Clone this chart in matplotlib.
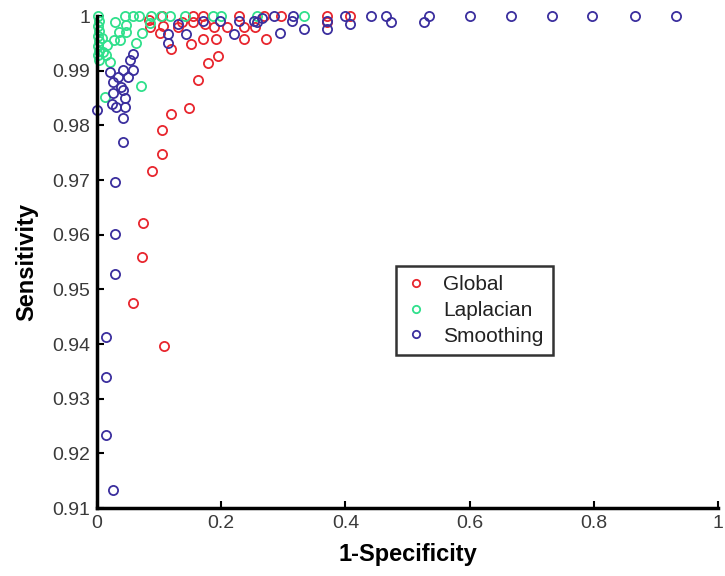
import matplotlib
matplotlib.use("Agg")
import matplotlib.pyplot as plt

plt.rcParams['font.family'] = ['Liberation Sans', 'DejaVu Sans']

# ROC operating points for three segmentation methods: (1-Specificity, Sensitivity)
global_x = [0.107, 0.058, 0.073, 0.074, 0.089, 0.105, 0.104, 0.119, 0.148, 0.162,
            0.178, 0.194, 0.119, 0.152, 0.170, 0.192, 0.237, 0.272, 0.101, 0.085,
            0.106, 0.130, 0.173, 0.189, 0.210, 0.237, 0.255, 0.154, 0.105, 0.155,
            0.170, 0.228, 0.269, 0.297, 0.370, 0.407, 0.370, 0.083, 0.136]
global_y = [0.9397, 0.9476, 0.9560, 0.9622, 0.9717, 0.9748, 0.9791, 0.9821, 0.9832, 0.9884,
            0.9915, 0.9927, 0.9939, 0.9949, 0.9959, 0.9959, 0.9959, 0.9959, 0.9970, 0.9980,
            0.9982, 0.9980, 0.9985, 0.9980, 0.9980, 0.9980, 0.9980, 0.9990, 1.0000, 1.0000,
            1.0000, 1.0000, 1.0000, 1.0000, 1.0000, 1.0000, 0.9990, 0.9993, 0.9990]

laplacian_x = [0.002, 0.003, 0.002, 0.003, 0.002, 0.003, 0.002, 0.003, 0.002, 0.003,
               0.029, 0.045, 0.057, 0.068, 0.086, 0.103, 0.117, 0.142, 0.186, 0.199,
               0.258, 0.334, 0.085, 0.047, 0.036, 0.047, 0.027, 0.037, 0.016, 0.073,
               0.063, 0.014, 0.020, 0.070, 0.013, 0.010, 0.008]
laplacian_y = [1.0000, 0.9991, 0.9982, 0.9973, 0.9964, 0.9955, 0.9946, 0.9937, 0.9928, 0.9919,
               0.9990, 1.0000, 1.0000, 1.0000, 1.0000, 1.0000, 1.0000, 1.0000, 1.0000, 1.0000,
               1.0000, 1.0000, 0.9987, 0.9984, 0.9971, 0.9971, 0.9957, 0.9956, 0.9948, 0.9970,
               0.9950, 0.9929, 0.9916, 0.9873, 0.9852, 0.9935, 0.9960]

smoothing_x = [0.026, 0.014, 0.014, 0.014, 0.029, 0.029, 0.029, 0.042, 0.042, 0.000,
               0.024, 0.031, 0.045, 0.045, 0.025, 0.042, 0.039, 0.026, 0.034, 0.050,
               0.021, 0.042, 0.058, 0.053, 0.057, 0.114, 0.114, 0.143, 0.221, 0.295,
               0.171, 0.198, 0.228, 0.253, 0.265, 0.314, 0.370, 0.370, 0.334, 0.407,
               0.474, 0.526, 0.285, 0.315, 0.399, 0.442, 0.466, 0.535, 0.600, 0.667,
               0.733, 0.798, 0.866, 0.932, 0.258, 0.130]
smoothing_y = [0.9133, 0.9234, 0.9339, 0.9413, 0.9528, 0.9601, 0.9697, 0.9770, 0.9813, 0.9828,
               0.9840, 0.9834, 0.9833, 0.9850, 0.9859, 0.9865, 0.9871, 0.9880, 0.9889, 0.9889,
               0.9898, 0.9901, 0.9901, 0.9920, 0.9931, 0.9950, 0.9968, 0.9968, 0.9968, 0.9970,
               0.9991, 0.9991, 0.9991, 0.9991, 0.9996, 0.9991, 0.9991, 0.9977, 0.9977, 0.9985,
               0.9990, 0.9990, 1.0000, 1.0000, 1.0000, 1.0000, 1.0000, 1.0000, 1.0000, 1.0000,
               1.0000, 1.0000, 1.0000, 1.0000, 0.9990, 0.9985]

x_ticks = [0, 0.2, 0.4, 0.6, 0.8, 1]
x_tick_labels = ['0', '0.2', '0.4', '0.6', '0.8', '1']
y_ticks = [0.91, 0.92, 0.93, 0.94, 0.95, 0.96, 0.97, 0.98, 0.99, 1.0]
y_tick_labels = ['0.91', '0.92', '0.93', '0.94', '0.95', '0.96', '0.97', '0.98', '0.99', '1']

fig = plt.figure(figsize=(7.25, 5.76), dpi=100)
ax = fig.add_axes([0.134, 0.118, 0.856, 0.854])

style = dict(marker='o', linestyle='none', markersize=6.6, markerfacecolor='none',
             markeredgewidth=1.3, clip_on=False)
ax.plot(global_x, global_y, color='#e8262e', label='Global', **style)
ax.plot(laplacian_x, laplacian_y, color='#30e08c', label='Laplacian', **style)
ax.plot(smoothing_x, smoothing_y, color='#3b2f9e', label='Smoothing', **style)

ax.set_xlim(0, 1)
ax.set_ylim(0.91, 1.0)
ax.set_xticks(x_ticks)
ax.set_xticklabels(x_tick_labels)
ax.set_yticks(y_ticks)
ax.set_yticklabels(y_tick_labels)

for side in ('top', 'right'):
    ax.spines[side].set_visible(False)
for side in ('left', 'bottom'):
    ax.spines[side].set_linewidth(2.5)
    ax.spines[side].set_color('black')

ax.tick_params(direction='in', length=5, width=1.5, labelsize=14, colors='black',
               labelcolor='#3a3a3a', pad=5)

ax.set_xlabel('1-Specificity', fontsize=17, fontweight='bold', labelpad=8)
ax.set_ylabel('Sensitivity', fontsize=17, fontweight='bold', labelpad=10)

leg = ax.legend(loc='upper left', bbox_to_anchor=(0.482, 0.492), fontsize=15,
                frameon=True, fancybox=False, markerscale=0.8, handlelength=1.0,
                handletextpad=0.8, borderpad=0.45, labelspacing=0.32,
                borderaxespad=0)
leg.get_frame().set_edgecolor('black')
leg.get_frame().set_linewidth(1.8)
for txt in leg.get_texts():
    txt.set_color('#222222')

fig.savefig('out.png', dpi=100)
